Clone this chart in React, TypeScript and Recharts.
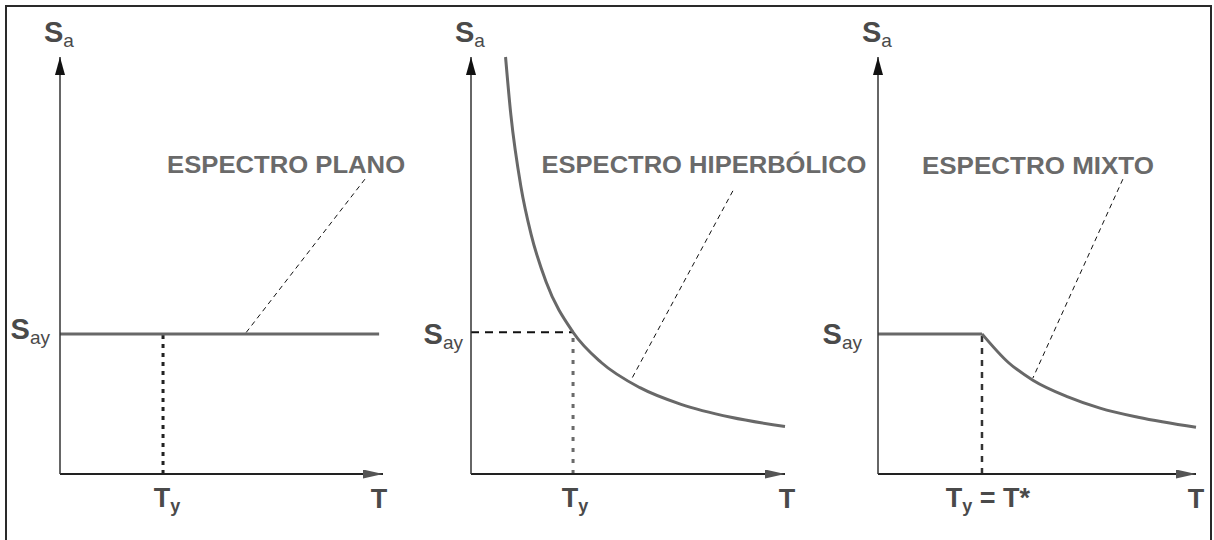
import { LineChart, Line, XAxis, YAxis, ReferenceLine, ReferenceDot } from 'recharts'

const W = 1214
const H = 540
const FONT = '"Liberation Sans", Arial, Helvetica, sans-serif'
const CURVE = '#686868'
const INK = '#4a4a4a'
const TITLE_INK = '#6a6a6a'
const Y_AXIS_W = 40
const X_AXIS_H = 30

// Espectro plano
const PLANO_T = [0, 9.88]
const PLANO_SA = [3.36, 3.36]
const PLANO_TY = 3.19
const PLANO_SAY = 3.36
const PLANO_LEADER_T = [9.44, 5.73]
const PLANO_LEADER_SA = [7.07, 3.36]

// Espectro hiperbólico
const HIPER_T = [1.1, 1.27, 1.59, 1.91, 2.39, 3.25, 4.14, 5.38, 6.69, 8.28, 10.0]
const HIPER_SA = [10.0, 8.61, 6.89, 5.76, 4.61, 3.4, 2.68, 2.07, 1.67, 1.36, 1.14]
const HIPER_TY = 3.25
const HIPER_SAY = 3.4
const HIPER_LEADER_T = [8.34, 5.13]
const HIPER_LEADER_SA = [6.79, 2.3]

// Espectro mixto (meseta hasta T*, luego rama hiperbólica)
const MIXTO_T = [0, 3.27, 4.09, 4.87, 5.97, 6.98, 8.18, 10.0]
const MIXTO_SA = [3.36, 3.36, 2.68, 2.25, 1.85, 1.58, 1.36, 1.12]
const MIXTO_TY = 3.27
const MIXTO_SAY = 3.36
const MIXTO_LEADER_T = [7.7, 4.87]
const MIXTO_LEADER_SA = [7.07, 2.3]

const TITLES = ['ESPECTRO PLANO', 'ESPECTRO HIPERBÓLICO', 'ESPECTRO MIXTO']

const points = (ts: number[], sas: number[]) => ts.map((t, i) => ({ t, sa: sas[i] }))

function Sub({ x, y, main, sub, tail, anchor = 'start', size = 26, subSize = 17, subWeight = 'bold' }: any) {
  return (
    <text x={x} y={y} textAnchor={anchor} fontFamily={FONT} fontWeight="bold" fontSize={size} fill={INK}>
      {main}
      <tspan fontSize={subSize} fontWeight={subWeight} dy={5}>{sub}</tspan>
      {tail ? <tspan dy={-5}>{tail}</tspan> : null}
    </text>
  )
}

interface PanelProps {
  id: string
  axisX: number
  tipX: number
  series: { t: number; sa: number }[][]
  curveTypes: ('linear' | 'monotone')[]
  ty: number
  say: number
  tEnd: number
  tyTail?: string
  leaderT: number[]
  leaderSa: number[]
  title: string
  titleAt: [number, number]
  titleWidth: number
  sayGap: number
  sayDy: number
  tyDx: number
  tDx: number
  horizDash: boolean
  vertStyle: { stroke: string; width: number; dash: string }
}

function Panel(p: PanelProps) {
  const arrY = `arrY-${p.id}`
  const arrX = `arrX-${p.id}`
  return (
    <div style={{ position: 'absolute', left: 0, top: 0 }}>
      <LineChart
        width={W}
        height={H}
        margin={{ top: 57, right: W - p.tipX, bottom: 66 - X_AXIS_H, left: p.axisX - Y_AXIS_W }}
      >
        <defs>
          <marker id={arrY} viewBox="0 0 10 18" refX="5" refY="0" markerWidth="10" markerHeight="18" markerUnits="userSpaceOnUse" orient="0">
            <path d="M5,0 L10,18 L0,18 z" fill="#111" />
          </marker>
          <marker id={arrX} viewBox="0 0 20 9" refX="20" refY="4.5" markerWidth="20" markerHeight="9" markerUnits="userSpaceOnUse" orient="0">
            <path d="M0,0 L20,4.5 L0,9 z" fill="#555" />
          </marker>
        </defs>
        <XAxis
          type="number"
          dataKey="t"
          domain={[0, 10]}
          ticks={[p.ty, p.tEnd]}
          interval={0}
          height={X_AXIS_H}
          tickLine={false}
          tickSize={0}
          tickMargin={0}
          axisLine={{ stroke: '#222', strokeWidth: 1.8, markerEnd: `url(#${arrX})` }}
          tick={(tp: any) =>
            tp.payload.value === p.ty ? (
              <Sub x={tp.x + p.tyDx} y={tp.y + 33} main="T" sub="y" tail={p.tyTail} anchor="middle" size={27} subSize={18} />
            ) : (
              <text x={tp.x + p.tDx} y={tp.y + 34} textAnchor="middle" fontFamily={FONT} fontWeight="bold" fontSize={27} fill={INK}>
                T
              </text>
            )
          }
        />
        <YAxis
          type="number"
          dataKey="sa"
          domain={[0, 10]}
          ticks={[p.say]}
          interval={0}
          width={Y_AXIS_W}
          tickLine={false}
          tickSize={0}
          tickMargin={0}
          axisLine={{ stroke: '#333', strokeWidth: 1.5, markerStart: `url(#${arrY})` }}
          tick={(tp: any) => (
            <Sub x={tp.x - p.sayGap} y={tp.y + p.sayDy} main="S" sub="ay" anchor="end" size={29} subSize={19} subWeight="normal" />
          )}
        />
        {p.horizDash && (
          <ReferenceLine
            segment={[{ x: 0, y: p.say }, { x: p.ty, y: p.say }]}
            stroke="#111"
            strokeWidth={2}
            strokeDasharray="8 6"
            ifOverflow="visible"
          />
        )}
        <ReferenceLine
          segment={[{ x: p.ty, y: 0 }, { x: p.ty, y: p.say }]}
          stroke={p.vertStyle.stroke}
          strokeWidth={p.vertStyle.width}
          strokeDasharray={p.vertStyle.dash}
          ifOverflow="visible"
        />
        <ReferenceLine
          segment={[{ x: p.leaderT[0], y: p.leaderSa[0] }, { x: p.leaderT[1], y: p.leaderSa[1] }]}
          stroke="#111"
          strokeWidth={1}
          strokeDasharray="5 4"
          ifOverflow="visible"
        />
        {p.series.map((d, i) => (
          <Line
            key={i}
            data={d}
            dataKey="sa"
            type={p.curveTypes[i]}
            stroke={CURVE}
            strokeWidth={3}
            dot={false}
            activeDot={false}
            isAnimationActive={false}
          />
        ))}
        <ReferenceDot
          x={0}
          y={10}
          ifOverflow="visible"
          shape={(sp: any) => (
            <Sub x={sp.cx - 16} y={sp.cy - 15} main="S" sub="a" size={29} subSize={19} subWeight="normal" />
          )}
        />
        <ReferenceDot
          x={p.titleAt[0]}
          y={p.titleAt[1]}
          ifOverflow="visible"
          shape={(sp: any) => (
            <text
              x={sp.cx}
              y={sp.cy}
              textAnchor="middle"
              fontFamily={FONT}
              fontWeight="bold"
              fontSize={23}
              fill={TITLE_INK}
              textLength={p.titleWidth}
              lengthAdjust="spacingAndGlyphs"
            >
              {p.title}
            </text>
          )}
        />
      </LineChart>
    </div>
  )
}

export default function App() {
  return (
    <div style={{ position: 'absolute', left: 0, top: 0, width: W, height: H, background: '#fff', overflow: 'hidden' }}>
      <div
        style={{
          position: 'absolute',
          left: 5,
          top: 5,
          width: 1207,
          height: 600,
          border: '2px solid #2a2a2a',
          boxSizing: 'border-box',
        }}
      />
      <Panel
        id="plano"
        axisX={60}
        tipX={383}
        series={[points(PLANO_T, PLANO_SA)]}
        curveTypes={['linear']}
        ty={PLANO_TY}
        say={PLANO_SAY}
        tEnd={9.88}
        leaderT={PLANO_LEADER_T}
        leaderSa={PLANO_LEADER_SA}
        title={TITLES[0]}
        titleAt={[7.0, 7.22]}
        titleWidth={238}
        sayGap={10}
        sayDy={5}
        tyDx={4}
        tDx={0}
        horizDash={false}
        vertStyle={{ stroke: '#222', width: 3, dash: '4 5' }}
      />
      <Panel
        id="hiper"
        axisX={471}
        tipX={785}
        series={[points(HIPER_T, HIPER_SA)]}
        curveTypes={['monotone']}
        ty={HIPER_TY}
        say={HIPER_SAY}
        tEnd={10}
        leaderT={HIPER_LEADER_T}
        leaderSa={HIPER_LEADER_SA}
        title={TITLES[1]}
        titleAt={[7.42, 7.22]}
        titleWidth={325}
        sayGap={8}
        sayDy={12}
        tyDx={2}
        tDx={2}
        horizDash={true}
        vertStyle={{ stroke: '#6a6a6a', width: 3, dash: '4 7' }}
      />
      <Panel
        id="mixto"
        axisX={878}
        tipX={1196}
        series={[points(MIXTO_T.slice(0, 2), MIXTO_SA.slice(0, 2)), points(MIXTO_T.slice(1), MIXTO_SA.slice(1))]}
        curveTypes={['linear', 'monotone']}
        ty={MIXTO_TY}
        say={MIXTO_SAY}
        tEnd={10}
        tyTail=" = T*"
        leaderT={MIXTO_LEADER_T}
        leaderSa={MIXTO_LEADER_SA}
        title={TITLES[2]}
        titleAt={[5.03, 7.19]}
        titleWidth={232}
        sayGap={16}
        sayDy={10}
        tyDx={6}
        tDx={0}
        horizDash={false}
        vertStyle={{ stroke: '#333', width: 2.5, dash: '6 6' }}
      />
    </div>
  )
}
